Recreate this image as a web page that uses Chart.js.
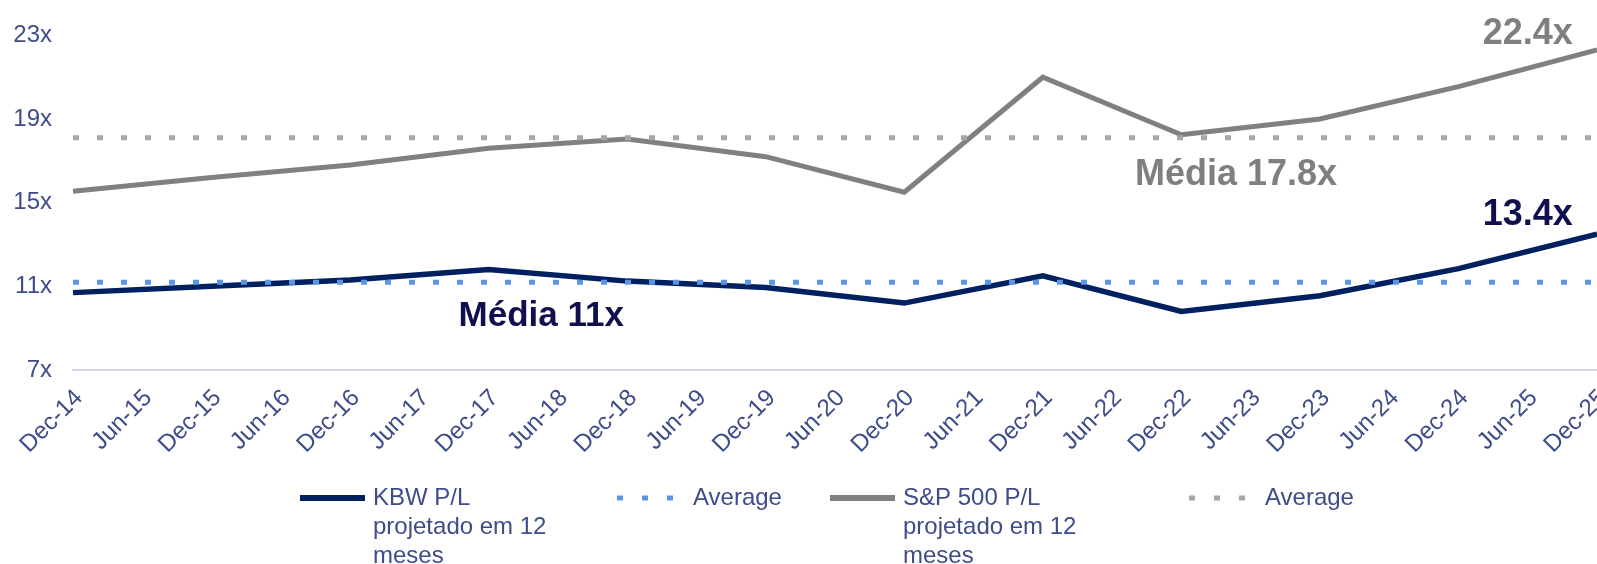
<!DOCTYPE html>
<html>
<head>
<meta charset="utf-8">
<script src="https://cdn.jsdelivr.net/npm/chart.js@4/dist/chart.umd.min.js"></script>
<style>
  html, body { margin: 0; padding: 0; background: #ffffff; }
  #wrap { position: relative; width: 1597px; height: 564px; }
</style>
</head>
<body>
<div id="wrap"><canvas id="peChart"></canvas></div>
<script>
// x categories, every six months
var categories = ['Dec-14', 'Jun-15', 'Dec-15', 'Jun-16', 'Dec-16', 'Jun-17', 'Dec-17', 'Jun-18',
  'Dec-18', 'Jun-19', 'Dec-19', 'Jun-20', 'Dec-20', 'Jun-21', 'Dec-21', 'Jun-22',
  'Dec-22', 'Jun-23', 'Dec-23', 'Jun-24', 'Dec-24', 'Jun-25', 'Dec-25'];

// yearly (December) readings, nothing in June
var kbwPE = [10.7, null, 11.0, null, 11.3, null, 11.8, null, 11.25, null, 10.95, null,
  10.2, null, 11.5, null, 9.8, null, 10.55, null, 11.85, null, 13.5];
var spPE = [15.55, null, 16.2, null, 16.8, null, 17.6, null, 18.05, null, 17.2, null,
  15.5, null, 21.0, null, 18.25, null, 19.0, null, 20.55, null, 22.3];

var kbwAverage = 11.2;
var spAverage = 18.1;

var yTicks = [7, 11, 15, 19, 23];

var legendLines = [
  ['KBW P/L', 'projetado em 12', 'meses'],
  ['Average'],
  ['S&P 500 P/L', 'projetado em 12', 'meses'],
  ['Average']
];

var NAVY = '#002060';
var GREY = '#808080';
var BLUE_DOT = '#5b96e6';
var GREY_DOT = '#a6a6a6';
var TEXT = '#3f4c8a';
var FONT = "'Liberation Sans', Arial, sans-serif";

// text callouts placed on the chart through the scales (index on x, value on y)
var callouts = [
  { text: 'Média 11x', x: 6.76, y: 9.12, align: 'center', color: '#10104f', size: 35 },
  { text: 'Média 17.8x', x: 16.79, y: 15.85, align: 'center', color: '#7f7f7f', size: 36 },
  { text: '22.4x', x: 21.65, y: 22.58, align: 'right', color: '#7f7f7f', size: 36 },
  { text: '13.4x', x: 21.65, y: 13.92, align: 'right', color: '#10104f', size: 36 }
];

var calloutPlugin = {
  id: 'callouts',
  afterDatasetsDraw: function (chart) {
    var ctx = chart.ctx;
    var xs = chart.scales.x, ys = chart.scales.y;
    ctx.save();
    ctx.textBaseline = 'alphabetic';
    callouts.forEach(function (c) {
      ctx.font = 'bold ' + c.size + 'px ' + FONT;
      ctx.fillStyle = c.color;
      ctx.textAlign = c.align;
      ctx.fillText(c.text, xs.getPixelForValue(c.x), ys.getPixelForValue(c.y));
    });
    ctx.restore();
  }
};

// legend under the axis, with wrapped labels
var legendPlugin = {
  id: 'wrappedLegend',
  afterDraw: function (chart) {
    var ctx = chart.ctx;
    var items = [
      { x: 300, color: NAVY, dotted: false },
      { x: 617, color: BLUE_DOT, dotted: true },
      { x: 830, color: GREY, dotted: false },
      { x: 1189, color: GREY_DOT, dotted: true }
    ];
    var top = 505, lineH = 29;
    ctx.save();
    items.forEach(function (it, i) {
      ctx.beginPath();
      ctx.strokeStyle = it.color;
      ctx.lineWidth = it.dotted ? 5 : 6;
      ctx.lineCap = 'butt';
      ctx.setLineDash(it.dotted ? [6, 19] : []);
      ctx.moveTo(it.x, top - 7);
      ctx.lineTo(it.x + (it.dotted ? 58 : 65), top - 7);
      ctx.stroke();
      ctx.setLineDash([]);
      ctx.font = '24px ' + FONT;
      ctx.fillStyle = TEXT;
      ctx.textAlign = 'left';
      ctx.textBaseline = 'alphabetic';
      legendLines[i].forEach(function (line, j) {
        ctx.fillText(line, it.x + (it.dotted ? 76 : 73), top + j * lineH);
      });
    });
    ctx.restore();
  }
};

var ctx = document.getElementById('peChart');
var peChart = new Chart(ctx, {
  type: 'line',
  data: {
    labels: categories,
    datasets: [{
      label: 'Average',
      data: categories.map(function () { return kbwAverage; }),
      borderColor: BLUE_DOT,
      borderWidth: 5,
      borderDash: [6, 18],
      borderCapStyle: 'butt',
      pointRadius: 0
    }, {
      label: 'Average',
      data: categories.map(function () { return spAverage; }),
      borderColor: GREY_DOT,
      borderWidth: 5,
      borderDash: [6, 18],
      borderCapStyle: 'butt',
      pointRadius: 0
    }, {
      label: 'KBW P/L projetado em 12 meses',
      data: kbwPE,
      borderColor: NAVY,
      borderWidth: 5.5,
      pointRadius: 0,
      spanGaps: true,
      tension: 0
    }, {
      label: 'S&P 500 P/L projetado em 12 meses',
      data: spPE,
      borderColor: GREY,
      borderWidth: 5,
      pointRadius: 0,
      spanGaps: true,
      tension: 0
    }]
  },
  options: {
    responsive: true,
    maintainAspectRatio: false,
    animation: false,
    layout: { padding: { top: 30, left: 13, right: 0, bottom: 94 } },
    plugins: {
      legend: { display: false },
      tooltip: { enabled: false }
    },
    scales: {
      x: {
        grid: { display: false, drawTicks: false },
        border: { display: true, color: '#d3d6ec', width: 2 },
        ticks: {
          autoSkip: false,
          maxRotation: 45,
          minRotation: 45,
          padding: 14,
          labelOffset: 6,
          color: TEXT,
          font: { family: FONT, size: 24 }
        },
        afterFit: function (scale) {
          scale.height = 100;
          scale.paddingRight = 0;
        }
      },
      y: {
        min: 7,
        max: 23,
        afterBuildTicks: function (scale) {
          scale.ticks = yTicks.map(function (v) { return { value: v }; });
        },
        grid: { display: false, drawTicks: false },
        border: { display: false },
        ticks: {
          padding: 21,
          color: TEXT,
          font: { family: FONT, size: 24 },
          callback: function (v) { return v + 'x'; }
        },
        afterFit: function (scale) {
          scale.width = 60;
        }
      }
    }
  },
  plugins: [calloutPlugin, legendPlugin]
});
</script>
</body>
</html>
